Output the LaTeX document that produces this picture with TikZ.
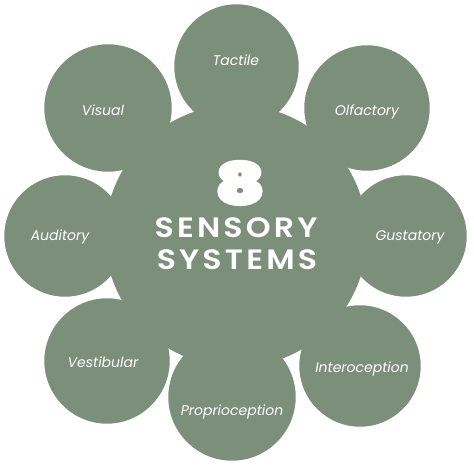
\documentclass[tikz,border=0pt]{standalone}
\usepackage{fontspec}
\setmainfont{Poppins}
\newfontfamily\heavyfont{Poppins Black}[FakeBold=4]
\newfontfamily\boldfont{Poppins SemiBold}[LetterSpace=10]
\definecolor{sage}{HTML}{7C8F7B}
\tikzset{
  sat/.style={circle, fill=sage, draw=white, line width=2.5pt, inner sep=0pt},
  lab/.style={text=white, font=\fontsize{14}{16}\selectfont\itshape, inner sep=0pt},
  title/.style={text=white, font=\boldfont\fontsize{28}{28}\selectfont, inner sep=0pt},
}
\begin{document}
\begin{tikzpicture}[x=1pt,y=1pt]
\useasboundingbox (0,0) rectangle (474,472);
\node[sat, minimum size=127pt] (tac) at (236.5,405.5) {};
\node[sat, minimum size=128pt] (olf) at (367,364) {};
\node[sat, minimum size=124pt] (gus) at (406,236) {};
\node[sat, minimum size=124pt] (int) at (360,106) {};
\node[sat, minimum size=130pt] (pro) at (232,75) {};
\node[sat, minimum size=128pt] (ves) at (107,111) {};
\node[sat, minimum size=124pt] (aud) at (65,236) {};
\node[sat, minimum size=130pt] (vis) at (108,364) {};
\node[circle, fill=sage, minimum size=262pt, inner sep=0pt] (ctr) at (236,236) {};
\node[lab] (tact) at (236,412) {Tactile};
\node[lab] (olft) at (367,360) {Olfactory};
\node[lab] (gust) at (410,235) {Gustatory};
\node[lab] (intt) at (362,103) {Interoception};
\node[lab] (prot) at (232,60) {Proprioception};
\node[lab] (vest) at (103,110) {Vestibular};
\node[lab] (audt) at (60,235) {Auditory};
\node[lab] (vist) at (103,362) {Visual};
\node[text=white, font=\heavyfont\fontsize{58}{58}\selectfont, inner sep=0pt] (eight) at (240,289) {\scalebox{1.3}[1]{8}};
\node[title] (sens) at (236,244) {\scalebox{1.13}[1]{SENSORY}};
\node[title] (syst) at (237,212) {\scalebox{1.13}[1]{SYSTEMS}};
\end{tikzpicture}
\end{document}
